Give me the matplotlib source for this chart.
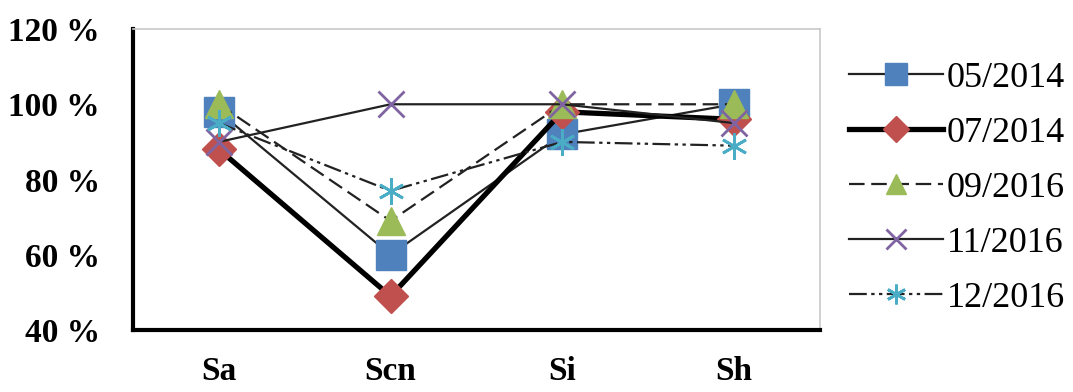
import matplotlib
matplotlib.use("Agg")
import matplotlib.pyplot as plt
from matplotlib.ticker import FuncFormatter

# Data (percent)
categories = ["Sa", "Scn", "Si", "Sh"]
series_labels = ["05/2014", "07/2014", "09/2016", "11/2016", "12/2016"]
v_05_2014 = [98, 60, 92, 100]
v_07_2014 = [88, 49, 98, 96]
v_09_2016 = [100, 69, 100, 100]
v_11_2016 = [90, 100, 100, 95]
v_12_2016 = [95, 77, 90, 89]
y_ticks = [40, 60, 80, 100, 120]

plt.rcParams["font.family"] = ["Liberation Serif", "DejaVu Serif"]

fig = plt.figure(figsize=(10.73, 3.92), dpi=100)
ax = fig.add_axes([0.124, 0.158, 0.64, 0.768])

x = list(range(len(categories)))
styles = [
    dict(color="#222222", lw=1.6, ls="-", marker="s", ms=22,
         mfc="#4F81BD", mec="#4F81BD"),
    dict(color="black", lw=3.8, ls="-", marker="D", ms=17,
         mfc="#C0504D", mec="#C0504D"),
    dict(color="#222222", lw=1.6, ls=(0, (7, 3)), marker="^", ms=20,
         mfc="#9BBB59", mec="#9BBB59"),
    dict(color="#222222", lw=1.6, ls="-", marker="x", ms=19, mew=2,
         mfc="#8064A2", mec="#8064A2"),
    dict(color="#222222", lw=1.6, ls=(0, (8, 2, 1.5, 2, 1.5, 2)),
         marker=(6, 2, 0), ms=19, mew=2, mfc="#4BACC6", mec="#4BACC6"),
]
all_values = [v_05_2014, v_07_2014, v_09_2016, v_11_2016, v_12_2016]
for vals, lab, st in zip(all_values, series_labels, styles):
    ax.plot(x, vals, label=lab, **st)

ax.set_xlim(-0.5, len(categories) - 0.5)
ax.set_ylim(40, 120)
ax.set_xticks(x)
ax.set_xticklabels(categories, fontsize=24, fontweight="bold")
ax.set_yticks(y_ticks)
ax.yaxis.set_major_formatter(FuncFormatter(lambda v, p: f"{v:.0f} %"))
for t in ax.get_yticklabels():
    t.set_fontsize(24)
    t.set_fontweight("bold")
ax.tick_params(axis="both", length=0)
ax.tick_params(axis="x", pad=19)
ax.tick_params(axis="y", pad=24)

for side in ["left", "bottom"]:
    ax.spines[side].set_linewidth(3)
    ax.spines[side].set_color("black")
for side in ["top", "right"]:
    ax.spines[side].set_linewidth(1.2)
    ax.spines[side].set_color("#c8c8c8")

fig.legend(loc="center left", bbox_to_anchor=(0.778, 0.52), frameon=False,
           fontsize=26, numpoints=1, markerscale=0.75, handlelength=2.6,
           handletextpad=0.1, labelspacing=0.6, borderaxespad=0)

fig.savefig("out.png", dpi=100)
